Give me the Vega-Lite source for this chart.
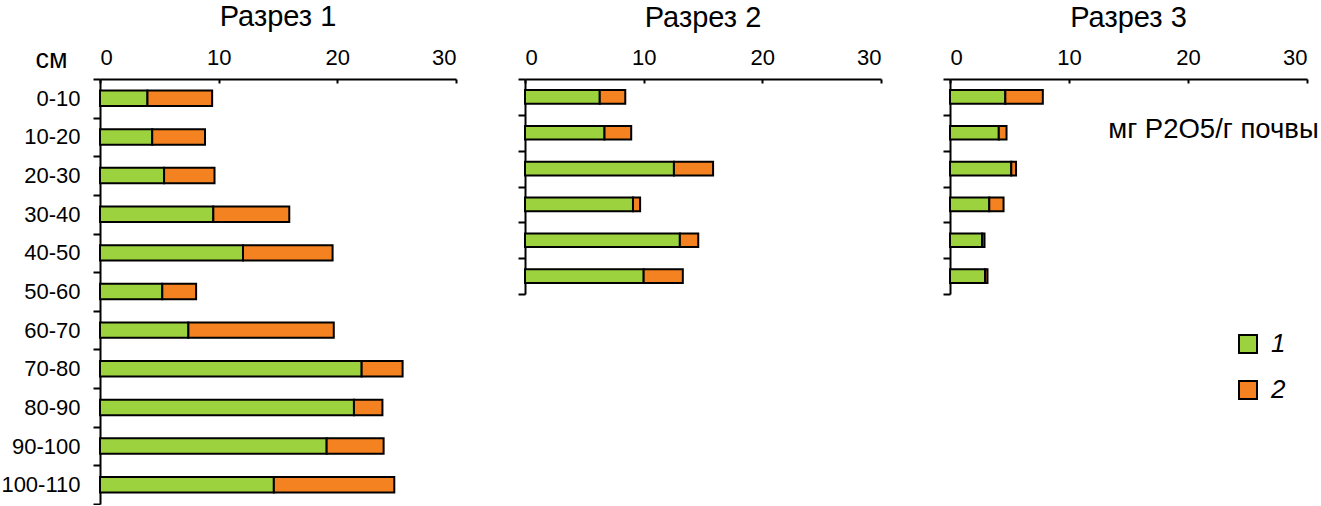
{
  "$schema": "https://vega.github.io/schema/vega-lite/v6.json",
  "padding": {"left": 0, "top": 3, "right": 0, "bottom": 0},
  "data": {
    "values": [
      {"section": 1, "depth": "0-10", "fraction": "1", "value": 4.0},
      {"section": 1, "depth": "0-10", "fraction": "2", "value": 5.45},
      {"section": 1, "depth": "10-20", "fraction": "1", "value": 4.4},
      {"section": 1, "depth": "10-20", "fraction": "2", "value": 4.45},
      {"section": 1, "depth": "20-30", "fraction": "1", "value": 5.4},
      {"section": 1, "depth": "20-30", "fraction": "2", "value": 4.25},
      {"section": 1, "depth": "30-40", "fraction": "1", "value": 9.55},
      {"section": 1, "depth": "30-40", "fraction": "2", "value": 6.4},
      {"section": 1, "depth": "40-50", "fraction": "1", "value": 12.05},
      {"section": 1, "depth": "40-50", "fraction": "2", "value": 7.55},
      {"section": 1, "depth": "50-60", "fraction": "1", "value": 5.25},
      {"section": 1, "depth": "50-60", "fraction": "2", "value": 2.85},
      {"section": 1, "depth": "60-70", "fraction": "1", "value": 7.45},
      {"section": 1, "depth": "60-70", "fraction": "2", "value": 12.25},
      {"section": 1, "depth": "70-80", "fraction": "1", "value": 22.05},
      {"section": 1, "depth": "70-80", "fraction": "2", "value": 3.45},
      {"section": 1, "depth": "80-90", "fraction": "1", "value": 21.4},
      {"section": 1, "depth": "80-90", "fraction": "2", "value": 2.4},
      {"section": 1, "depth": "90-100", "fraction": "1", "value": 19.1},
      {"section": 1, "depth": "90-100", "fraction": "2", "value": 4.8},
      {"section": 1, "depth": "100-110", "fraction": "1", "value": 14.65},
      {"section": 1, "depth": "100-110", "fraction": "2", "value": 10.15},
      {"section": 2, "depth": "0-10", "fraction": "1", "value": 6.3},
      {"section": 2, "depth": "0-10", "fraction": "2", "value": 2.15},
      {"section": 2, "depth": "10-20", "fraction": "1", "value": 6.7},
      {"section": 2, "depth": "10-20", "fraction": "2", "value": 2.25},
      {"section": 2, "depth": "20-30", "fraction": "1", "value": 12.55},
      {"section": 2, "depth": "20-30", "fraction": "2", "value": 3.3},
      {"section": 2, "depth": "30-40", "fraction": "1", "value": 9.1},
      {"section": 2, "depth": "30-40", "fraction": "2", "value": 0.6},
      {"section": 2, "depth": "40-50", "fraction": "1", "value": 13.05},
      {"section": 2, "depth": "40-50", "fraction": "2", "value": 1.55},
      {"section": 2, "depth": "50-60", "fraction": "1", "value": 10.0},
      {"section": 2, "depth": "50-60", "fraction": "2", "value": 3.3},
      {"section": 3, "depth": "0-10", "fraction": "1", "value": 4.65},
      {"section": 3, "depth": "0-10", "fraction": "2", "value": 3.15},
      {"section": 3, "depth": "10-20", "fraction": "1", "value": 4.1},
      {"section": 3, "depth": "10-20", "fraction": "2", "value": 0.65},
      {"section": 3, "depth": "20-30", "fraction": "1", "value": 5.15},
      {"section": 3, "depth": "20-30", "fraction": "2", "value": 0.4},
      {"section": 3, "depth": "30-40", "fraction": "1", "value": 3.3},
      {"section": 3, "depth": "30-40", "fraction": "2", "value": 1.2},
      {"section": 3, "depth": "40-50", "fraction": "1", "value": 2.7},
      {"section": 3, "depth": "40-50", "fraction": "2", "value": 0.2},
      {"section": 3, "depth": "50-60", "fraction": "1", "value": 2.95},
      {"section": 3, "depth": "50-60", "fraction": "2", "value": 0.2}
    ]
  },
  "spacing": 69,
  "bounds": "flush",
  "hconcat": [
    {
      "width": 356,
      "height": 425,
      "title": "Разрез 1",
      "transform": [{"filter": "datum.section == 1"}],
      "mark": {"type": "bar", "stroke": "black", "strokeWidth": 2, "height": {"band": 0.4}},
      "encoding": {
        "y": {
          "field": "depth", "type": "nominal", "sort": null,
          "scale": {"padding": 0},
          "axis": {
            "title": "см", "titleAngle": 0, "titleAlign": "center", "titleBaseline": "middle",
            "titleX": -49, "titleY": -20, "titleFontSize": 27, "titleFontWeight": "normal",
            "labelPadding": 13
          }
        },
        "x": {
          "field": "value", "type": "quantitative", "stack": "zero",
          "scale": {"domain": [0, 30]},
          "axis": {"title": null, "values": [0, 10, 20, 30]}
        },
        "color": {"field": "fraction", "type": "nominal", "scale": {"domain": ["1", "2"], "range": ["#9dd23f", "#f58220"]}},
        "order": {"field": "fraction"}
      }
    },
    {
      "width": 356,
      "height": 215,
      "title": "Разрез 2",
      "transform": [{"filter": "datum.section == 2"}],
      "mark": {"type": "bar", "stroke": "black", "strokeWidth": 2, "height": {"band": 0.38}},
      "encoding": {
        "y": {
          "field": "depth", "type": "nominal", "sort": null,
          "scale": {"padding": 0},
          "axis": {"title": null, "labels": false}
        },
        "x": {
          "field": "value", "type": "quantitative", "stack": "zero",
          "scale": {"domain": [0, 30]},
          "axis": {"title": null, "values": [0, 10, 20, 30]}
        },
        "color": {"field": "fraction", "type": "nominal", "scale": {"domain": ["1", "2"], "range": ["#9dd23f", "#f58220"]}},
        "order": {"field": "fraction"}
      }
    },
    {
      "width": 357,
      "height": 215,
      "title": "Разрез 3",
      "transform": [{"filter": "datum.section == 3"}],
      "mark": {"type": "bar", "stroke": "black", "strokeWidth": 2, "height": {"band": 0.38}},
      "encoding": {
        "y": {
          "field": "depth", "type": "nominal", "sort": null,
          "scale": {"padding": 0},
          "axis": {"title": null, "labels": false}
        },
        "x": {
          "field": "value", "type": "quantitative", "stack": "zero",
          "scale": {"domain": [0, 30]},
          "axis": {
            "values": [0, 10, 20, 30],
            "title": "мг P2O5/г почвы", "titleX": 263, "titleY": 50,
            "titleAlign": "center", "titleBaseline": "middle",
            "titleFontSize": 27.5, "titleFontWeight": "normal"
          }
        },
        "color": {"field": "fraction", "type": "nominal", "scale": {"domain": ["1", "2"], "range": ["#9dd23f", "#f58220"]}},
        "order": {"field": "fraction"}
      }
    }
  ],
  "config": {
    "font": "Liberation Sans",
    "view": {"stroke": null},
    "title": {"fontSize": 29, "fontWeight": "normal", "anchor": "middle", "color": "black", "offset": 13},
    "axis": {
      "domainColor": "black", "domainWidth": 2,
      "tickColor": "black", "tickWidth": 2,
      "labelColor": "black", "labelFontSize": 22, "labelFont": "Liberation Sans",
      "titleColor": "black", "titleFont": "Liberation Sans",
      "grid": false
    },
    "axisY": {"tickBand": "extent", "tickSize": 7},
    "axisX": {"orient": "top", "tickSize": -4, "labelPadding": 14},
    "legend": {
      "orient": "none", "legendX": 1135, "legendY": 252, "title": null,
      "symbolType": "square", "symbolSize": 324,
      "symbolStrokeColor": "black", "symbolStrokeWidth": 2, "symbolOpacity": 1,
      "labelFontSize": 26, "labelFontStyle": "italic", "labelColor": "black",
      "labelOffset": 10, "rowPadding": 20
    }
  }
}
